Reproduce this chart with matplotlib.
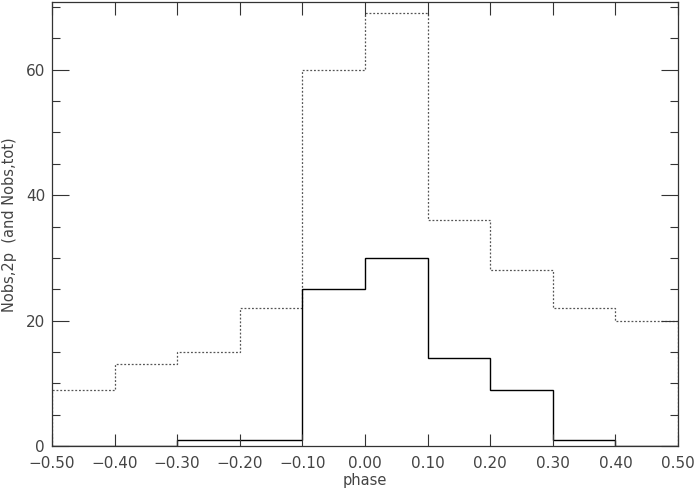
import numpy as np
import matplotlib
matplotlib.use("Agg")
import matplotlib.pyplot as plt
from matplotlib.ticker import MultipleLocator

# Bin edges in phase and counts per bin
bin_edges = [-0.5, -0.4, -0.3, -0.2, -0.1, 0.0, 0.1, 0.2, 0.3, 0.4, 0.5]
n_tot = [9, 13, 15, 22, 60, 69, 36, 28, 22, 20]
n_2p = [0, 0, 1, 1, 25, 30, 14, 9, 1, 0]
x_ticks = [-0.5, -0.4, -0.3, -0.2, -0.1, 0.0, 0.1, 0.2, 0.3, 0.4, 0.5]
x_ticklabels = ["\u22120.50", "\u22120.40", "\u22120.30", "\u22120.20", "\u22120.10",
                "0.00", "0.10", "0.20", "0.30", "0.40", "0.50"]

fig = plt.figure(figsize=(6.94, 4.92), dpi=100)
ax = fig.add_axes([52 / 694, 1 - 446 / 492, 626 / 694, 444 / 492])

ax.stairs(n_tot, bin_edges, color="#555555", lw=0.9, linestyle=(0, (1.5, 1.5)))
ax.stairs(n_2p, bin_edges, color="black", lw=1.0)

ax.set_xlim(-0.5, 0.5)
ax.set_ylim(0, 70.8)
ax.set_xticks(x_ticks)
ax.set_xticklabels(x_ticklabels)
ax.yaxis.set_major_locator(MultipleLocator(20))
ax.yaxis.set_minor_locator(MultipleLocator(5))

ax.tick_params(axis="both", which="both", direction="in", top=True, right=True,
               labelsize=11, labelcolor="#444444", color="#333333")
ax.tick_params(axis="x", which="major", length=9, width=0.8, pad=7)
ax.tick_params(axis="y", which="major", length=12, width=0.8, pad=5)
ax.tick_params(axis="y", which="minor", length=6, width=0.8)

for s in ax.spines.values():
    s.set_linewidth(0.9)
    s.set_color("#333333")

ax.set_xlabel("phase", fontsize=10.5, color="#444444", labelpad=2)
fig.text(10 / 694, 1 - 225 / 492, "Nobs,2p  (and Nobs,tot)", rotation=90,
         ha="center", va="center", fontsize=10.5, color="#444444")

fig.savefig("out.png", dpi=100)
